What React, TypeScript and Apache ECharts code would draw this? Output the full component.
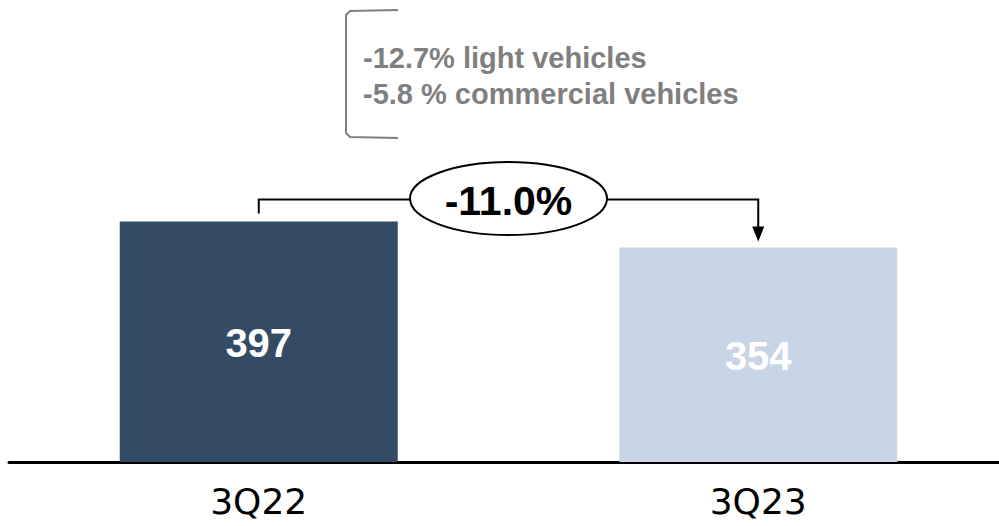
import React, { useEffect, useRef } from "react";
import * as echarts from "echarts";

const categories = ["3Q22", "3Q23"];
const values = [397, 354];
const barColors = ["#344b66", "#c8d5e6"];
const changeLabel = "-11.0%";
const noteLines = ["-12.7% light vehicles", "-5.8 % commercial vehicles"];

export default function App() {
  const ref = useRef<HTMLDivElement>(null);
  useEffect(() => {
    const chart = echarts.init(ref.current!, null, { renderer: "svg" });
    chart.setOption({
      animation: false,
      grid: { left: 9, width: 999, top: 38, bottom: 64 },
      xAxis: {
        type: "category",
        data: categories,
        axisLine: { lineStyle: { color: "#000", width: 3 } },
        axisTick: { show: false },
        axisLabel: { fontSize: 36, color: "#000", fontFamily: "DejaVu Sans", margin: 21 },
      },
      yAxis: { type: "value", min: 0, max: 700, show: false },
      series: [
        {
          type: "bar",
          barWidth: 278,
          data: values.map((v, i) => ({ value: v, itemStyle: { color: barColors[i] } })),
          label: {
            show: true,
            position: "inside",
            offset: [0, 1],
            color: "#fff",
            fontSize: 40,
            fontWeight: "bold",
            fontFamily: "Liberation Sans, Arial, sans-serif",
          },
        },
      ],
    });
    const p1 = chart.convertToPixel({ seriesIndex: 0 }, [0, values[0]]) as number[];
    const p2 = chart.convertToPixel({ seriesIndex: 0 }, [1, values[1]]) as number[];
    const lineY = p1[1] - 22;
    const cx = (p1[0] + p2[0]) / 2;
    const rx = 98.5;
    const ry = 36.5;
    const stroke = { stroke: "#000", lineWidth: 2, fill: null };
    chart.setOption({
      graphic: [
        { type: "polyline", shape: { points: [[p1[0], p1[1] - 8], [p1[0], lineY], [cx - rx, lineY]] }, style: stroke, z: 10 },
        { type: "polyline", shape: { points: [[cx + rx, lineY], [p2[0], lineY], [p2[0], p2[1] - 20]] }, style: stroke, z: 10 },
        { type: "polygon", shape: { points: [[p2[0] - 6, p2[1] - 21], [p2[0] + 6, p2[1] - 21], [p2[0], p2[1] - 6]] }, style: { fill: "#000" }, z: 10 },
        { type: "ellipse", shape: { cx: cx, cy: lineY - 1, rx, ry }, style: { fill: "#fff", stroke: "#000", lineWidth: 2 }, z: 11 },
        {
          type: "text",
          x: cx,
          y: lineY + 1,
          z: 12,
          style: { text: changeLabel, fill: "#000", fontSize: 41, fontWeight: "bold", fontFamily: "Liberation Sans, Arial, sans-serif", align: "center", verticalAlign: "middle" },
        },
        {
          type: "polyline",
          shape: { points: [[398, 10], [350, 11], [346, 15], [346, 133], [350, 137], [398, 138]] },
          style: { stroke: "#808080", lineWidth: 2, fill: null },
          z: 10,
        },
        ...noteLines.map((t, i) => ({
          type: "text",
          x: 363,
          y: 58 + i * 36,
          z: 12,
          style: { text: t, fill: "#7f7f7f", fontSize: 29, fontWeight: "bold", fontFamily: "Liberation Sans, Arial, sans-serif", align: "left", verticalAlign: "middle" },
        })),
      ],
    });
    return () => chart.dispose();
  }, []);
  return (
    <div style={{ position: "absolute", left: 0, top: 0, width: 999, height: 526, overflow: "hidden" }}>
      <div ref={ref} style={{ width: 1010, height: 526 }} />
    </div>
  );
}
